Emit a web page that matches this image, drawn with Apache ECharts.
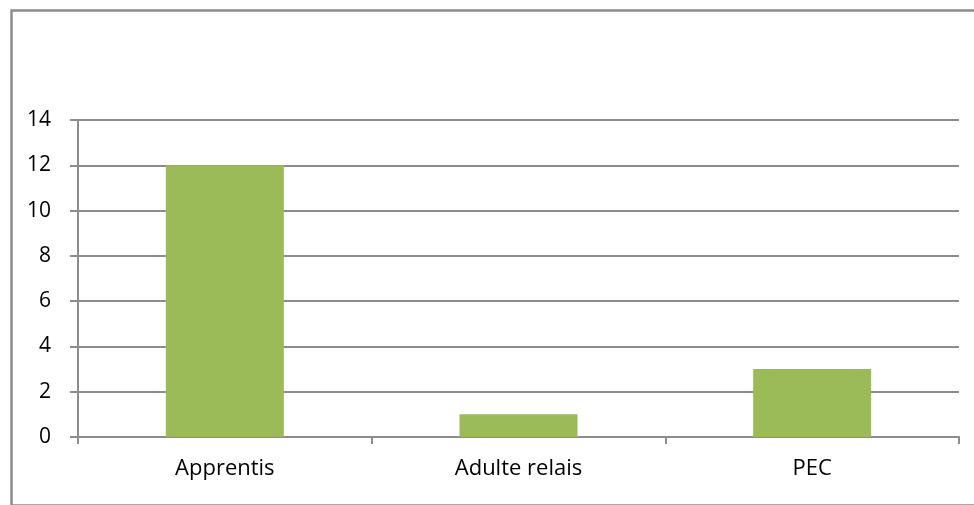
<!DOCTYPE html>
<html><head><meta charset="utf-8">
<script src="https://cdn.jsdelivr.net/npm/echarts@6/dist/echarts.min.js"></script>
<style>html,body{margin:0;padding:0;background:#fff}#c{width:974px;height:505px}</style>
</head><body><div id="c"></div>
<script>
const categories = ["Apprentis", "Adulte relais", "PEC"];
const values = [12, 1, 3];
const yTicks = [0, 2, 4, 6, 8, 10, 12, 14];

const chart = echarts.init(document.getElementById('c'), null, {renderer: 'canvas'});
chart.setOption({
  animation: false,
  backgroundColor: '#fff',
  graphic: [{
    type: 'rect', left: 9, top: 8, z: -1,
    shape: {x: 0, y: 0, width: 990, height: 495},
    style: {fill: 'none', stroke: '#8c8c8c', lineWidth: 2.5}
  }],
  grid: {left: 78, right: 15, top: 120, bottom: 68, containLabel: false},
  xAxis: {
    type: 'category', data: categories,
    axisLine: {lineStyle: {color: '#8c8c8c', width: 2}},
    axisTick: {show: true, length: 7, inside: false, alignWithLabel: false, lineStyle: {color: '#8c8c8c', width: 2}},
    axisLabel: {color: '#000', fontSize: 22, fontFamily: 'Open Sans', margin: 21}
  },
  yAxis: {
    type: 'value', min: yTicks[0], max: yTicks[yTicks.length-1], interval: 2,
    axisLine: {show: true, lineStyle: {color: '#8c8c8c', width: 2}},
    axisTick: {show: true, length: 8, lineStyle: {color: '#8c8c8c', width: 2}},
    splitLine: {lineStyle: {color: '#8c8c8c', width: 2}},
    axisLabel: {color: '#000', fontSize: 21, fontFamily: 'Open Sans', margin: 27}
  },
  series: [{
    type: 'bar', data: values, barWidth: 118,
    itemStyle: {color: '#9BBB59'}
  }]
});
</script></body></html>
